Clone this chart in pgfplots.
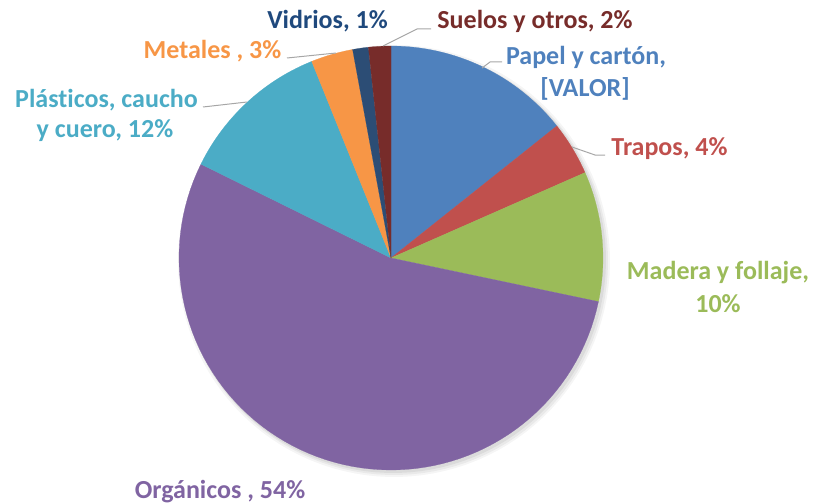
\documentclass[border=0pt]{standalone}
\usepackage{pgfplots}
\pgfplotsset{compat=1.18}
\usepackage{fontspec}
\setmainfont[Ligatures=NoCommon]{Carlito}
\definecolor{cPapel}{HTML}{4F81BD}
\definecolor{cTrapos}{HTML}{C0504D}
\definecolor{cMadera}{HTML}{9BBB59}
\definecolor{cOrg}{HTML}{8064A2}
\definecolor{cPlas}{HTML}{4BACC6}
\definecolor{cMet}{HTML}{F79646}
\definecolor{cVid}{HTML}{2C4D75}
\definecolor{cSue}{HTML}{772C2A}
\definecolor{tVid}{HTML}{1F497D}
\definecolor{lead}{HTML}{A6A6A6}
% slice: start %, end %, colour  (clockwise from 12 o'clock)
\newcommand{\slice}[3]{%
  \addplot[fill=#3, draw=#3, line width=0.2pt, domain=#1:#2, samples=80, variable=\t]
    ({391+212*sin(3.6*\t)}, {258-212*cos(3.6*\t)}) -- (axis cs:391,258) -- cycle;
}
\newcommand{\shadow}[3]{%
  \addplot[fill=black, draw=none, fill opacity=#3, domain=0:100, samples=120, variable=\t]
    ({391+#1+#2*sin(3.6*\t)}, {258+#1-#2*cos(3.6*\t)}) -- cycle;
}
\tikzset{lab/.style={anchor=base, inner sep=0pt, font=\fontsize{26}{31}\selectfont\bfseries}}
\begin{document}
\begin{tikzpicture}
\begin{axis}[name=ax, hide axis, scale only axis, width=815pt, height=503pt,
  xmin=0, xmax=815, ymin=0, ymax=503, y dir=reverse, clip=false]
  \shadow{3}{216}{0.04}
  \shadow{3}{214}{0.05}
  \shadow{2}{213}{0.06}
  \slice{0}{14.3}{cPapel}
  \slice{14.3}{18.4}{cTrapos}
  \slice{18.4}{28.3}{cMadera}
  \slice{28.3}{82.3}{cOrg}
  \slice{82.3}{93.9}{cPlas}
  \slice{93.9}{97.1}{cMet}
  \slice{97.1}{98.3}{cVid}
  \slice{98.3}{100}{cSue}
  % leader lines
  \draw[lead, line width=1pt] (axis cs:383,46) -- (axis cs:417,29) -- (axis cs:431,29);
  \draw[lead, line width=1pt] (axis cs:482,68) -- (axis cs:490,62) -- (axis cs:502,62);
  \draw[lead, line width=1pt] (axis cs:572,147) -- (axis cs:595,155) -- (axis cs:605,155);
  \draw[lead, line width=1pt] (axis cs:247,102) -- (axis cs:203,107);
  \draw[lead, line width=1pt] (axis cs:336,53) -- (axis cs:287,58);
  % labels
  \node[lab, text=tVid] at (axis cs:327.5,29) {Vidrios, 1\%};
  \node[lab, text=cSue] at (axis cs:535,29) {Suelos y otros, 2\%};
  \node[lab, text=cMet] at (axis cs:212.5,59) {Metales , 3\%};
  \node[lab, text=cPapel] at (axis cs:586,65) {Papel y cartón,};
  \node[lab, text=cPapel] at (axis cs:585,97) {[VALOR]};
  \node[lab, text=cTrapos] at (axis cs:669.5,155) {Trapos, 4\%};
  \node[lab, text=cPlas] at (axis cs:106.5,107) {Plásticos, caucho};
  \node[lab, text=cPlas] at (axis cs:105,138) {y cuero, 12\%};
  \node[lab, text=cMadera] at (axis cs:718,279) {Madera y follaje,};
  \node[lab, text=cMadera] at (axis cs:718,312) {10\%};
  \node[lab, text=cOrg] at (axis cs:220,498) {Orgánicos , 54\%};
\end{axis}
\pgfresetboundingbox
\path (ax.south west) rectangle (ax.north east);
\end{tikzpicture}
\end{document}
